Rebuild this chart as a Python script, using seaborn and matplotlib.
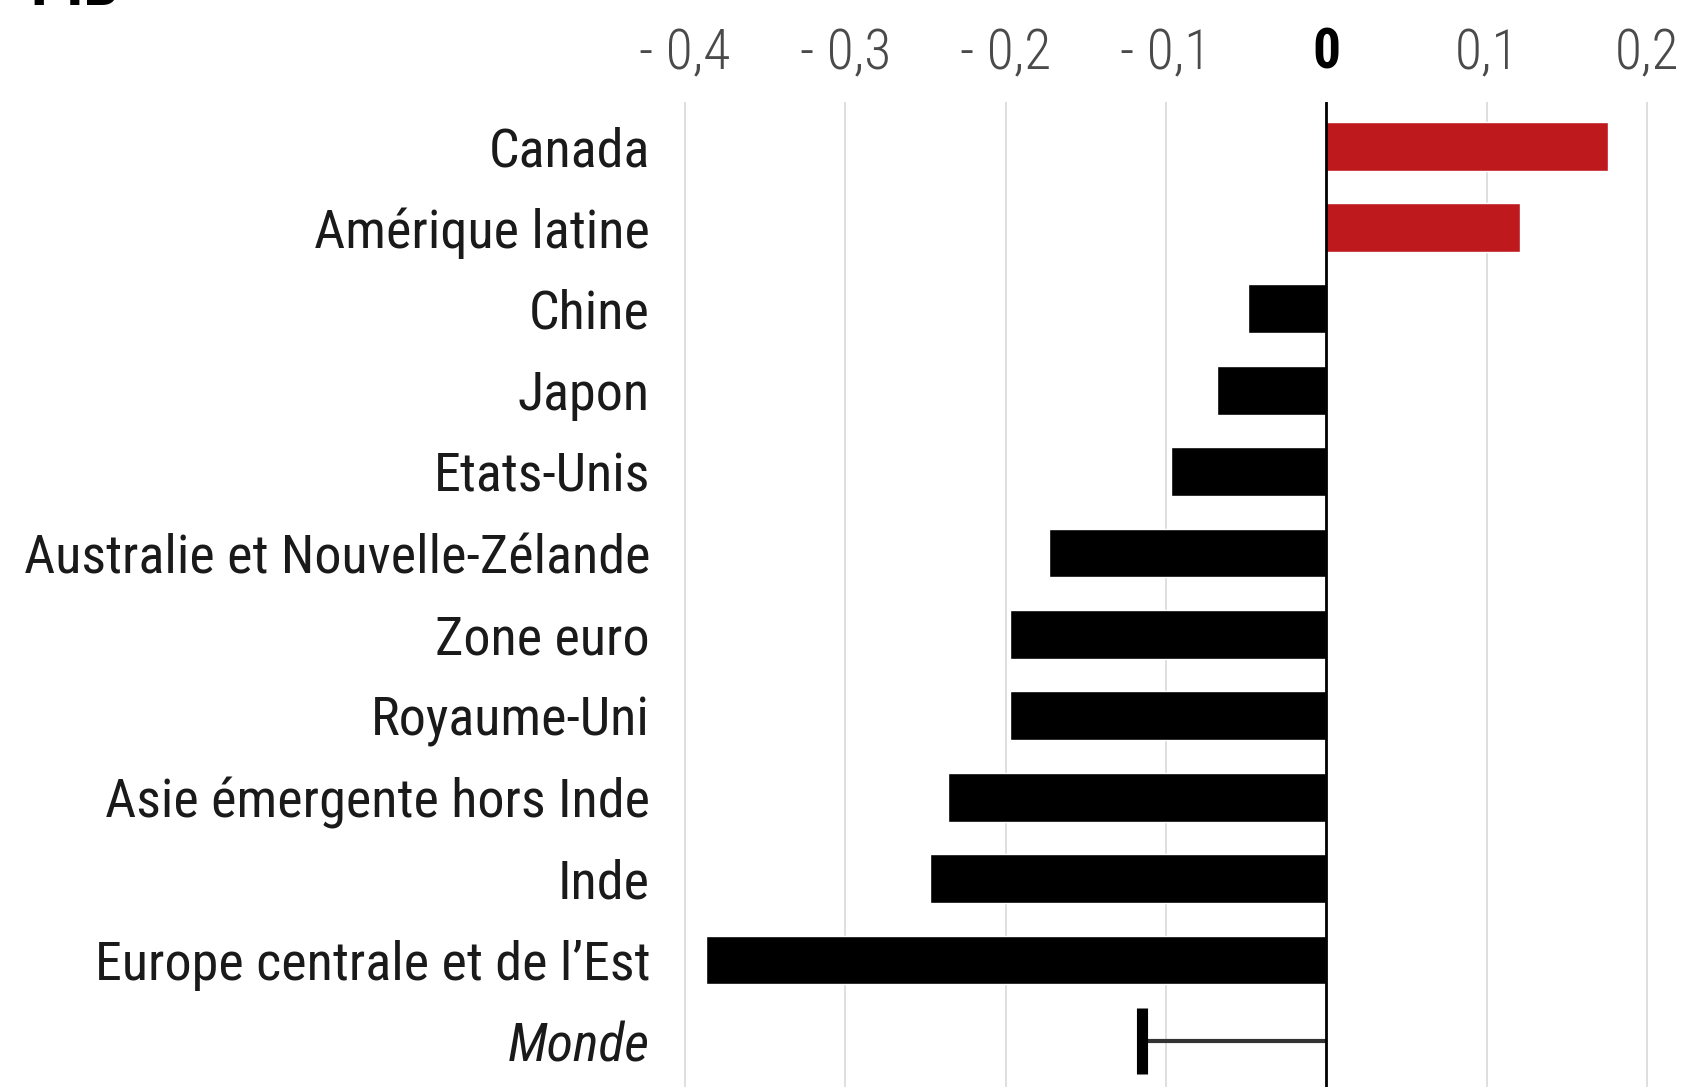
import matplotlib
matplotlib.use("Agg")
import matplotlib.pyplot as plt
from matplotlib import font_manager
import seaborn as sns
import pandas as pd

regions = ["Canada", "Amérique latine", "Chine", "Japon", "Etats-Unis",
           "Australie et Nouvelle-Zélande", "Zone euro", "Royaume-Uni",
           "Asie émergente hors Inde", "Inde", "Europe centrale et de l’Est"]
impact = [0.176, 0.121, -0.049, -0.068, -0.097, -0.173, -0.197, -0.197,
          -0.236, -0.247, -0.387]
world_label = "Monde"
world_value = -0.115
xticks = [-0.4, -0.3, -0.2, -0.1, 0, 0.1, 0.2]
xtick_labels = ["- 0,4", "- 0,3", "- 0,2", "- 0,1", "0", "0,1", "0,2"]

installed = {f.name for f in font_manager.fontManager.ttflist}
font = "DejaVu Sans"
for cand in ["Roboto Condensed", "Liberation Sans Narrow", "Open Sans Condensed", "Roboto"]:
    if cand in installed:
        font = cand
        break

sns.set_theme(style="white")
plt.rcParams["font.family"] = [font, "DejaVu Sans"]

df = pd.DataFrame({"region": regions, "impact": impact})
df["signe"] = ["pos" if v > 0 else "neg" for v in impact]

fig = plt.figure(figsize=(16.87, 10.87), dpi=100)
ax = fig.add_axes([0.387, 0.0, 0.613, 0.906])

sns.barplot(data=df, y="region", x="impact", hue="signe",
            palette={"pos": "#be1a1e", "neg": "#000000"},
            width=0.6, dodge=False, legend=False, ax=ax, saturation=1)

# Monde : trait + barre de fin
ax.plot([0, world_value], [len(regions), len(regions)], color="#333333", lw=3, solid_capstyle="butt")
ax.plot([world_value], [len(regions)], marker="|", markersize=48, mew=8, color="black")

ax.set_xlim(-0.42, 0.225)
ax.set_ylim(len(regions) + 0.56, -0.54)
ax.axvline(0, color="black", lw=2, zorder=3)
for t in xticks:
    if t != 0:
        ax.axvline(t, color="#d9d9d9", lw=1.2, zorder=0)

ax.xaxis.tick_top()
ax.set_xticks(xticks)
ax.set_xticklabels(xtick_labels)
ax.tick_params(axis="x", length=0, pad=16, labelsize=40, labelcolor="#4a4a4a")
for lab in ax.get_xticklabels():
    lab.set_fontweight("light")
    if lab.get_text() == "0":
        lab.set_color("black")
        lab.set_fontweight("bold")

ax.set_yticks(range(len(regions) + 1))
ax.set_yticklabels(regions + [world_label])
ax.tick_params(axis="y", length=0, pad=2, labelsize=39, labelcolor="#1a1a1a")
ax.get_yticklabels()[-1].set_style("italic")

ax.set_xlabel("")
ax.set_ylabel("")
for s in ax.spines.values():
    s.set_visible(False)

fig.text(0.018, 1 - 5 / 1087, "PIB", fontsize=46, fontweight="bold", va="baseline", color="black")

fig.savefig("out.png", dpi=100)
